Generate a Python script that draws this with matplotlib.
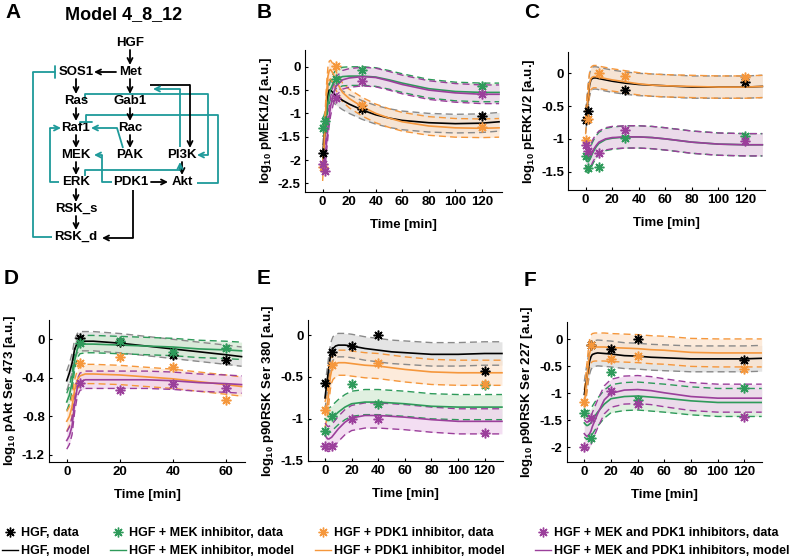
import numpy as np
import matplotlib
matplotlib.use('Agg')
import matplotlib.pyplot as plt
from matplotlib.lines import Line2D

plt.rcParams['font.family'] = ['Liberation Sans', 'DejaVu Sans']
plt.rcParams['font.weight'] = 'bold'
plt.rcParams['axes.unicode_minus'] = False
plt.rcParams['mathtext.fontset'] = 'custom'
plt.rcParams['mathtext.bf'] = 'Liberation Sans:bold'
plt.rcParams['mathtext.rm'] = 'Liberation Sans:bold'
plt.rcParams['mathtext.default'] = 'bf'

nan = np.nan

# model time grid (min)
t_model = [0, 1, 2, 3, 4, 5, 6, 8, 10, 15, 20, 30, 40, 50, 60, 80, 100, 120, 133]
t_model_akt = [0, 1, 2, 3, 4, 5, 7, 10, 20, 30, 40, 50, 60, 66]

# B: pMEK1/2 model (HGF, +MEKi, +PDK1i, +both)
mek_hgf = [-1.88, -1.6, -1.25, -0.9, -0.62, -0.5, -0.5, -0.56, -0.62, -0.72, -0.8, -0.93, -1.03, -1.1, -1.15, -1.2, -1.22, -1.21, -1.18]
mek_mek = [-1.3, -1.25, -1.15, -0.95, -0.75, -0.6, -0.48, -0.35, -0.27, -0.21, -0.2, -0.2, -0.22, -0.28, -0.35, -0.47, -0.53, -0.55, -0.55]
mek_pdk = [-2.25, -1.7, -1.1, -0.55, -0.2, -0.08, -0.06, -0.15, -0.3, -0.55, -0.68, -0.86, -1.0, -1.1, -1.18, -1.27, -1.31, -1.32, -1.31]
mek_both = [-2.1, -2.05, -1.9, -1.6, -1.3, -1.05, -0.85, -0.6, -0.42, -0.28, -0.24, -0.21, -0.23, -0.3, -0.38, -0.5, -0.56, -0.59, -0.59]
mek_band = [0.2, 0.2, 0.2, 0.2]

# C: pERK1/2 model
erk_hgf = [-0.74, -0.55, -0.35, -0.18, -0.1, -0.08, -0.07, -0.07, -0.08, -0.1, -0.12, -0.15, -0.17, -0.18, -0.19, -0.21, -0.21, -0.21, -0.2]
erk_mek = [-1.3, -1.34, -1.35, -1.32, -1.28, -1.23, -1.19, -1.12, -1.07, -1.01, -0.99, -0.97, -0.97, -0.98, -1.0, -1.05, -1.08, -1.09, -1.09]
erk_pdk = [-0.76, -0.55, -0.33, -0.16, -0.08, -0.06, -0.05, -0.05, -0.06, -0.08, -0.1, -0.13, -0.16, -0.18, -0.19, -0.2, -0.21, -0.21, -0.2]
erk_both = [-1.25, -1.3, -1.31, -1.29, -1.25, -1.2, -1.16, -1.1, -1.05, -1.0, -0.98, -0.97, -0.97, -0.98, -1.0, -1.05, -1.08, -1.09, -1.09]
erk_band = [0.17, 0.17, 0.17, 0.17]

# D: pAkt Ser473 model
akt_hgf = [-0.43, -0.35, -0.25, -0.1, -0.04, -0.02, -0.02, -0.02, -0.04, -0.07, -0.1, -0.13, -0.16, -0.18]
akt_mek = [-0.65, -0.58, -0.45, -0.22, -0.1, -0.06, -0.05, -0.05, -0.06, -0.07, -0.08, -0.1, -0.11, -0.12]
akt_pdk = [-0.85, -0.8, -0.7, -0.52, -0.42, -0.38, -0.36, -0.36, -0.37, -0.39, -0.41, -0.44, -0.47, -0.49]
akt_both = [-1.05, -1.0, -0.9, -0.66, -0.5, -0.44, -0.42, -0.42, -0.42, -0.42, -0.43, -0.45, -0.46, -0.47]
akt_band = [0.1, 0.09, 0.1, 0.09]

# E: p90RSK Ser380 model
r380_hgf = [-0.75, -0.62, -0.5, -0.37, -0.26, -0.2, -0.16, -0.13, -0.12, -0.12, -0.13, -0.16, -0.18, -0.2, -0.21, -0.23, -0.23, -0.22, -0.22]
r380_mek = [-1.0, -1.01, -1.02, -1.02, -1.01, -1.0, -0.98, -0.95, -0.92, -0.86, -0.82, -0.8, -0.8, -0.81, -0.82, -0.85, -0.86, -0.86, -0.86]
r380_pdk = [-0.95, -0.88, -0.8, -0.65, -0.5, -0.42, -0.38, -0.35, -0.33, -0.33, -0.34, -0.36, -0.37, -0.39, -0.41, -0.44, -0.45, -0.45, -0.45]
r380_both = [-1.2, -1.22, -1.24, -1.24, -1.23, -1.22, -1.2, -1.16, -1.12, -1.04, -0.99, -0.96, -0.96, -0.97, -0.98, -1.01, -1.03, -1.03, -1.03]
r380_band = [0.14, 0.15, 0.15, 0.15]

# F: p90RSK Ser227 model
r227_hgf = [-1.02, -0.85, -0.7, -0.55, -0.4, -0.32, -0.28, -0.26, -0.25, -0.26, -0.27, -0.3, -0.31, -0.33, -0.34, -0.36, -0.36, -0.36, -0.35]
r227_mek = [-1.55, -1.58, -1.6, -1.59, -1.57, -1.55, -1.5, -1.42, -1.35, -1.2, -1.1, -1.06, -1.05, -1.07, -1.09, -1.14, -1.17, -1.17, -1.17]
r227_pdk = [-1.2, -0.95, -0.7, -0.45, -0.25, -0.18, -0.15, -0.14, -0.14, -0.14, -0.15, -0.16, -0.17, -0.19, -0.2, -0.24, -0.25, -0.25, -0.25]
r227_both = [-1.75, -1.78, -1.8, -1.78, -1.75, -1.7, -1.62, -1.5, -1.38, -1.12, -1.0, -0.94, -0.93, -0.95, -0.99, -1.06, -1.09, -1.09, -1.09]
r227_band = [0.24, 0.26, 0.26, 0.26]

# measured data
t_data_mek = [0, 2, 10, 30, 120]
mek_hgf_data = [-1.84, nan, nan, -0.91, -1.05]
mek_mek_data = [-1.31, -1.16, -0.27, -0.07, -0.41]
mek_pdk_data = [-2.16, nan, 0.01, -0.81, -1.29]
mek_both_data = [-2.08, -2.24, -0.66, -0.30, -0.59]

t_data_erk = [0, 2, 10, 30, 120]
erk_hgf_data = [-0.71, -0.57, nan, -0.26, -0.13]
erk_mek_data = [-1.26, -1.44, -1.43, -0.98, -0.96]
erk_pdk_data = [-1.01, -0.70, 0.0, -0.04, -0.06]
erk_both_data = [-1.09, -1.19, -1.22, -0.87, -1.03]

t_data_akt = [5, 20, 40, 60]
akt_hgf_data = [0.01, -0.03, -0.16, -0.22]
akt_mek_data = [-0.04, -0.02, -0.13, -0.09]
akt_pdk_data = [-0.25, -0.18, -0.29, -0.63]
akt_both_data = [-0.45, -0.53, -0.46, -0.51]

t_data_rsk = [0, 5, 20, 40, 120]
r380_hgf_data = [-0.57, -0.2, -0.13, 0.0, -0.43]
r380_mek_data = [-1.15, -0.97, -0.59, -0.82, -0.6]
r380_pdk_data = [-0.9, -0.36, nan, -0.33, -0.59]
r380_both_data = [-1.33, -1.32, -1.0, -1.0, -1.17]

r227_hgf_data = [nan, -0.11, -0.17, 0.0, -0.38]
r227_mek_data = [-1.36, -1.83, -0.61, -1.13, -0.9]
r227_pdk_data = [-1.17, -0.1, -0.37, -0.3, -0.55]
r227_both_data = [-2.0, -1.46, -0.95, -1.19, -1.44]

legend_labels = ['HGF', 'HGF + MEK inhibitor', 'HGF + PDK1 inhibitor', 'HGF + MEK and PDK1 inhibitors']

line_cols = ['black', '#2e9a5a', '#f5973c', '#9b3f9b']
dash_cols = ['#8a8a8a', '#2e9a5a', '#f5973c', '#9b3f9b']
fill_cols = ['#dcdcdc', '#d6ecd6', '#fde5cf', '#f0d4ee']
ASTER = (8, 2, 0)
FS = 9.5


def panel(ax, t, models, band, td, datas, ylabel, yticks, ylim, xticks, xlim):
    t = np.array(t)
    for i in range(4):
        m = np.array(models[i])
        ax.fill_between(t, m - band[i], m + band[i], color=fill_cols[i], lw=0, alpha=0.75)
    for i in range(4):
        m = np.array(models[i])
        ax.plot(t, m + band[i], color=dash_cols[i], lw=1.0, dashes=(5, 3))
        ax.plot(t, m - band[i], color=dash_cols[i], lw=1.0, dashes=(5, 3))
    for i in range(4):
        ax.plot(t, models[i], color=line_cols[i], lw=1.2)
    for i in range(4):
        ax.plot(td, datas[i], ls='none', marker=ASTER, ms=7, mew=1.1, color=line_cols[i])
    ax.set_xlim(xlim)
    ax.set_ylim(ylim)
    ax.set_xticks(xticks)
    ax.set_yticks(yticks)
    ax.set_yticklabels(['%g' % v for v in yticks])
    ax.spines['top'].set_visible(False)
    ax.spines['right'].set_visible(False)
    ax.tick_params(labelsize=FS, length=2, direction='in', pad=3)
    for lab in ax.get_xticklabels() + ax.get_yticklabels():
        lab.set_fontweight('bold')
    ax.set_xlabel('Time [min]', fontsize=FS, fontweight='bold', labelpad=8)
    ax.set_ylabel(ylabel, fontsize=FS, fontweight='bold', labelpad=3)


def path(ax, pts, color, style='->'):
    xs = [p[0] for p in pts[:-1]]
    ys = [p[1] for p in pts[:-1]]
    if len(xs) > 1:
        ax.plot(xs, ys, color=color, lw=1.3, solid_capstyle='butt')
    ax.annotate('', xy=pts[-1], xytext=pts[-2],
                arrowprops=dict(arrowstyle=style, color=color, lw=1.3,
                                shrinkA=0, shrinkB=0, mutation_scale=9))


fig = plt.figure(figsize=(8, 5.58), dpi=100)

# ---- panel A: network
axA = fig.add_axes([0, 1 - 250 / 558, 260 / 800, 250 / 558])
axA.set_xlim(0, 260)
axA.set_ylim(250, 0)
axA.axis('off')
axA.text(124, 15, 'Model 4_8_12', fontsize=13, fontweight='bold', ha='center', va='center')
nodes = {'HGF': (130, 43), 'Met': (130, 72), 'SOS1': (76, 72), 'Ras': (76, 101),
         'Gab1': (130, 101), 'Raf1': (76, 128), 'Rac': (130, 128), 'MEK': (76, 155),
         'PAK': (130, 155), 'PI3K': (182, 155), 'ERK': (76, 182), 'PDK1': (131, 182),
         'Akt': (182, 182), 'RSK_s': (76, 209), 'RSK_d': (76, 237)}
for name, (x, y) in nodes.items():
    axA.text(x, y, name, fontsize=9.5, fontweight='bold', ha='center', va='center')

k = 'black'
path(axA, [(130, 50), (130, 65)], k)
path(axA, [(116, 72), (94, 72)], k)
path(axA, [(130, 79), (130, 94)], k)
path(axA, [(130, 108), (130, 121)], k)
path(axA, [(130, 135), (130, 148)], k)
path(axA, [(76, 79), (76, 94)], k)
path(axA, [(76, 108), (76, 121)], k)
path(axA, [(76, 135), (76, 148)], k)
path(axA, [(76, 162), (76, 175)], k)
path(axA, [(76, 189), (76, 202)], k)
path(axA, [(76, 216), (76, 230)], k)
path(axA, [(182, 162), (182, 175)], k)
path(axA, [(151, 182), (168, 182)], k)
path(axA, [(150, 85), (190, 85), (190, 148)], k)
path(axA, [(133, 190), (133, 238), (102, 238)], k)

tl = '#1e9a9a'
path(axA, [(52, 237), (33, 237), (33, 72), (55, 72)], tl, '-[, widthB=0.45, lengthB=0')
path(axA, [(85, 100), (85, 94), (208, 94), (208, 155), (197, 155)], tl)
path(axA, [(197, 183), (218, 183), (218, 115), (86, 115), (86, 122)], tl, '-[, widthB=0.45, lengthB=0')
path(axA, [(180, 147), (180, 89), (153, 89)], tl)
path(axA, [(123, 148), (117, 128), (91, 128)], tl)
path(axA, [(59, 182), (50, 182), (50, 128), (61, 128)], tl)
path(axA, [(112, 182), (102, 182), (102, 155), (94, 155)], tl)
path(axA, [(85, 176), (85, 170), (180, 170), (180, 162)], tl)

# ---- panels B-F
axB = fig.add_axes([305 / 800, 1 - 191.7 / 558, 196.7 / 800, 141.7 / 558])
panel(axB, t_model, [mek_hgf, mek_mek, mek_pdk, mek_both], mek_band,
      t_data_mek, [mek_hgf_data, mek_mek_data, mek_pdk_data, mek_both_data],
      r'log$_{10}$ pMEK1/2 [a.u.]', [0, -0.5, -1, -1.5, -2, -2.5], (-2.68, 0.36),
      [0, 20, 40, 60, 80, 100, 120], (-13.3, 135))

axC = fig.add_axes([568.3 / 800, 1 - 190 / 558, 196.7 / 800, 138.3 / 558])
panel(axC, t_model, [erk_hgf, erk_mek, erk_pdk, erk_both], erk_band,
      t_data_erk, [erk_hgf_data, erk_mek_data, erk_pdk_data, erk_both_data],
      r'log$_{10}$ pERK1/2 [a.u.]', [0, -0.5, -1, -1.5], (-1.78, 0.33),
      [0, 20, 40, 60, 80, 100, 120], (-13, 135))

axD = fig.add_axes([49 / 800, 1 - 461.7 / 558, 196 / 800, 141.7 / 558])
panel(axD, t_model_akt, [akt_hgf, akt_mek, akt_pdk, akt_both], akt_band,
      t_data_akt, [akt_hgf_data, akt_mek_data, akt_pdk_data, akt_both_data],
      r'log$_{10}$ pAkt Ser 473 [a.u.]', [0, -0.4, -0.8, -1.2], (-1.27, 0.2),
      [0, 20, 40, 60], (-6.7, 67.3))

axE = fig.add_axes([307.7 / 800, 1 - 460.7 / 558, 195.6 / 800, 140.7 / 558])
panel(axE, t_model, [r380_hgf, r380_mek, r380_pdk, r380_both], r380_band,
      t_data_rsk, [r380_hgf_data, r380_mek_data, r380_pdk_data, r380_both_data],
      r'log$_{10}$ p90RSK Ser 380 [a.u.]', [0, -0.5, -1, -1.5], (-1.5, 0.18),
      [0, 20, 40, 60, 80, 100, 120], (-13, 134))

axF = fig.add_axes([566.7 / 800, 1 - 461.7 / 558, 195 / 800, 140 / 558])
panel(axF, t_model, [r227_hgf, r227_mek, r227_pdk, r227_both], r227_band,
      t_data_rsk, [r227_hgf_data, r227_mek_data, r227_pdk_data, r227_both_data],
      r'log$_{10}$ p90RSK Ser 227 [a.u.]', [0, -0.5, -1, -1.5, -2], (-2.27, 0.33),
      [0, 20, 40, 60, 80, 100, 120], (-13.2, 133))

# panel letters
for lab, x, y in [('A', 13, 13), ('B', 264, 13), ('C', 532, 13),
                  ('D', 11, 279), ('E', 264, 279), ('F', 530, 281)]:
    fig.text(x / 800, 1 - y / 558, lab, fontsize=15, fontweight='bold', ha='center', va='center')

# legend: one small legend per condition, placed like the original columns
leg_x = [2, 110, 315, 535]
for i in range(4):
    h = [Line2D([], [], ls='none', marker=ASTER, ms=7, mew=1.0, color=line_cols[i]),
         Line2D([], [], color=line_cols[i], lw=1.0)]
    fig.legend(h, [legend_labels[i] + ', data', legend_labels[i] + ', model'],
               loc='lower left', bbox_to_anchor=(leg_x[i] / 800, 0.5 / 558),
               frameon=False, handlelength=1.25, handletextpad=0.3,
               labelspacing=0.5, borderpad=0.0, borderaxespad=0.0,
               prop={'weight': 'bold', 'size': 9})

fig.savefig('out.png', dpi=100)
